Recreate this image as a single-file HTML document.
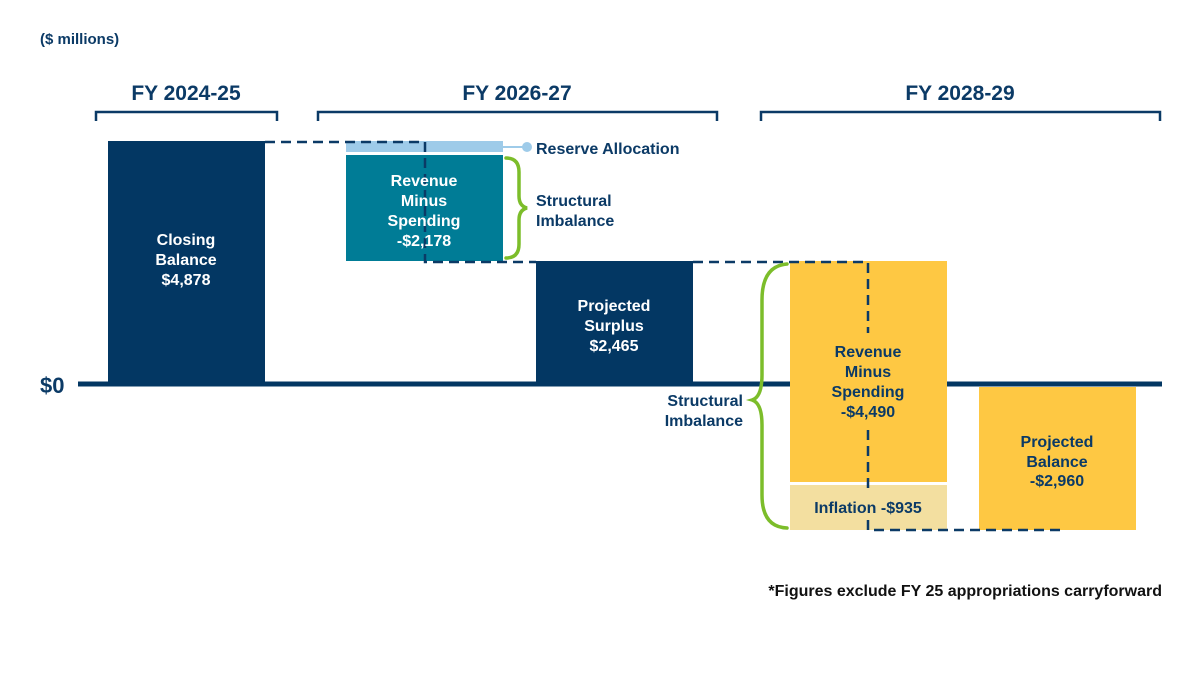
<!DOCTYPE html>
<html><head><meta charset="utf-8"><style>
body{margin:0;background:#fff}
svg text{font-family:"Liberation Sans",sans-serif;font-weight:bold}
</style></head><body>
<svg width="1200" height="675" viewBox="0 0 1200 675" xmlns="http://www.w3.org/2000/svg">
<rect width="1200" height="675" fill="#fff"/>
<text x="40" y="44" font-size="15" fill="#0b3a66">($ millions)</text>
<g stroke="#0b3a66" stroke-width="2.5" fill="none">
<path d="M96 121V112H277V121"/>
<path d="M318 121V112H717V121"/>
<path d="M761 121V112H1160V121"/>
</g>
<g font-size="21" fill="#0b3a66" text-anchor="middle">
<text x="186" y="100">FY 2024-25</text>
<text x="517" y="100">FY 2026-27</text>
<text x="960" y="100">FY 2028-29</text>
</g>
<rect x="108" y="141" width="157" height="242" fill="#033763"/>
<rect x="346" y="141" width="157" height="11" fill="#9ecbe9"/>
<line x1="503" y1="147" x2="527" y2="147" stroke="#9ecbe9" stroke-width="2"/>
<circle cx="527" cy="147" r="5" fill="#9ecbe9"/>
<rect x="346" y="155" width="157" height="106" fill="#007c96"/>
<rect x="536" y="261" width="157" height="122" fill="#033763"/>
<rect x="790" y="261" width="157" height="221" fill="#fec843"/>
<rect x="790" y="485" width="157" height="45" fill="#f3dfa0"/>
<rect x="979" y="387" width="157" height="143" fill="#fec843"/>
<line x1="78" y1="384" x2="790" y2="384" stroke="#033763" stroke-width="5"/>
<line x1="947" y1="384" x2="1162" y2="384" stroke="#033763" stroke-width="5"/>
<text x="40" y="393" font-size="22" fill="#0b3a66">$0</text>
<g stroke="#0b3a66" stroke-width="2.5" fill="none" stroke-dasharray="10,6">
<path d="M265 142H425V262H536"/>
<path d="M693 262H868V333"/>
<path d="M868 430V492"/>
<path d="M868 520V530H1060"/>
</g>
<g stroke="#7cbd2a" stroke-width="3.5" fill="none" stroke-linecap="round">
<path d="M506 158Q519 158 519 172V196Q519 206 527 208Q519 210 519 220V244Q519 258 506 258"/>
<path d="M787 264Q762 266 762 300V375Q762 397 752 400Q762 403 762 425V495Q762 527 787 528"/>
</g>
<g fill="#0b3a66" font-size="16">
<text x="536" y="154">Reserve Allocation</text>
<text x="536" y="206">Structural</text>
<text x="536" y="226">Imbalance</text>
<text x="743" y="406" text-anchor="end">Structural</text>
<text x="743" y="426" text-anchor="end">Imbalance</text>
</g>
<g fill="#fff" font-size="16" text-anchor="middle">
<text x="186" y="245">Closing</text><text x="186" y="265">Balance</text><text x="186" y="285">$4,878</text>
<text x="424" y="186">Revenue</text><text x="424" y="206">Minus</text><text x="424" y="226">Spending</text><text x="424" y="246">-$2,178</text>
<text x="614" y="311">Projected</text><text x="614" y="331">Surplus</text><text x="614" y="351">$2,465</text>
</g>
<g fill="#0b3a66" font-size="16" text-anchor="middle">
<text x="868" y="357">Revenue</text><text x="868" y="377">Minus</text><text x="868" y="397">Spending</text><text x="868" y="417">-$4,490</text>
<text x="868" y="513">Inflation -$935</text>
<text x="1057" y="447">Projected</text><text x="1057" y="467">Balance</text><text x="1057" y="486">-$2,960</text>
</g>
<text x="1162" y="596" font-size="16" fill="#111" text-anchor="end">*Figures exclude FY 25 appropriations carryforward</text>
</svg>
</body></html>
